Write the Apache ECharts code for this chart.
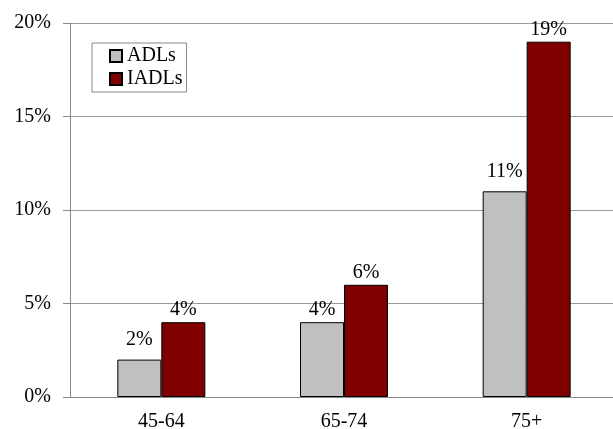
<!DOCTYPE html>
<html><head><meta charset="utf-8">
<script src="https://cdn.jsdelivr.net/npm/echarts@6/dist/echarts.min.js"></script>
<style>html,body{margin:0;padding:0;background:#fff}#c{width:613px;height:429px}</style>
</head><body><div id="c"></div>
<script>
var categories = ['45-64', '65-74', '75+'];
var adls = [2, 4, 11];
var iadls = [4, 6, 19];
var yTicks = [0, 5, 10, 15, 20];

var font = '"Liberation Serif", "Times New Roman", serif';
var chart = echarts.init(document.getElementById('c'));
chart.setOption({
  animation: false,
  textStyle: { fontFamily: font },
  grid: { left: 70, width: 548, top: 23, bottom: 32, containLabel: false, outerBoundsMode: 'none' },
  legend: {
    left: 92, top: 43, orient: 'vertical',
    borderColor: '#888', borderWidth: 1, padding: [3, 4, 3, 17],
    itemWidth: 12, itemHeight: 12, itemGap: 3,
    textStyle: { fontFamily: font, fontSize: 20, lineHeight: 20, color: '#000' },
    data: [{ name: 'ADLs', icon: 'rect' }, { name: 'IADLs', icon: 'rect' }]
  },
  xAxis: {
    type: 'category', data: categories,
    axisLine: { lineStyle: { color: '#888' } },
    axisTick: { show: false },
    axisLabel: { fontFamily: font, fontSize: 20, color: '#000', margin: 15 }
  },
  yAxis: {
    type: 'value', min: 0, max: 20, interval: 5,
    axisLine: { show: true, lineStyle: { color: '#888' } },
    axisTick: { show: true, length: 7, lineStyle: { color: '#888' } },
    splitLine: { lineStyle: { color: '#999' } },
    axisLabel: { fontFamily: font, fontSize: 20, color: '#000', margin: 19,
      formatter: function (v) { return yTicks.indexOf(v) >= 0 ? v + '%' : ''; } }
  },
  series: [
    { name: 'ADLs', type: 'bar', barWidth: 44, barGap: '0%',
      data: adls.map(function (v, i) { return i === 1 ? { value: v, label: { distance: 2 } } : v; }),
      itemStyle: { color: '#C0C0C0', borderColor: '#000', borderWidth: 1 },
      label: { show: true, position: 'top', distance: 10, formatter: '{c}%', fontFamily: font, fontSize: 20, color: '#000' } },
    { name: 'IADLs', type: 'bar', data: iadls, barWidth: 44,
      itemStyle: { color: '#800000', borderColor: '#000', borderWidth: 1 },
      label: { show: true, position: 'top', distance: 2, formatter: '{c}%', fontFamily: font, fontSize: 20, color: '#000' } }
  ]
});
</script></body></html>
